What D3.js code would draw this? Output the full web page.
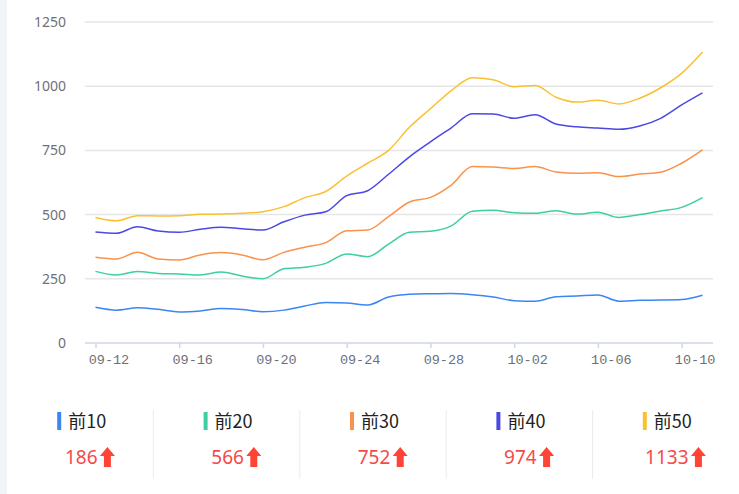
<!DOCTYPE html>
<html>
<head>
	<meta charset="UTF-8">
	<title>排名趋势</title>
	<style>
		body { margin: 0; background: #fff; }
		svg { display: block; }
		.grid line { stroke: #e6e6e6; }
		.yaxis text { fill: #6e7079; font: 14px "Noto Sans", sans-serif; }
		.xaxis text { fill: #6e7079; font: 13.5px "Liberation Mono", monospace; }
	</style>
</head>
<body>
<script src="https://d3js.org/d3.v7.min.js"></script>
<script type="text/javascript">

'use strict';

var dates = ["09-12","09-13","09-14","09-15","09-16","09-17","09-18","09-19","09-20","09-21",
	"09-22","09-23","09-24","09-25","09-26","09-27","09-28","09-29","09-30","10-01",
	"10-02","10-03","10-04","10-05","10-06","10-07","10-08","10-09","10-10","10-11"];

var names = ["前10", "前20", "前30", "前40", "前50"];

var top10 = [139,128,137,131,121,125,134,130,122,128,144,158,156,148,179,190,192,193,188,179,165,163,180,183,187,163,166,167,169,186];
var top20 = [279,265,278,271,269,265,276,261,250,289,295,310,347,336,385,431,435,456,513,517,507,505,515,502,509,489,500,514,528,566];
var top30 = [334,327,353,327,323,343,352,343,324,353,373,391,437,440,492,549,567,615,687,685,680,687,666,661,663,648,658,665,700,752];
var top40 = [432,427,453,436,431,443,451,445,440,472,498,511,574,593,657,725,783,838,893,892,875,889,853,842,837,832,845,875,927,974];
var top50 = [489,476,496,495,496,501,502,505,511,531,566,590,650,700,750,840,912,983,1033,1025,998,1003,957,938,945,931,953,994,1050,1133];

var yTicks = [0, 250, 500, 750, 1000, 1250];

var series = [top10, top20, top30, top40, top50];
var colors = ["#3b86f4", "#3ccfa4", "#f8924d", "#4b48e4", "#f9c130"];

var W = 739, H = 494;
var svg = d3.select("body").append("svg")
	.attr("width", W)
	.attr("height", H);

// light strip on the left edge
svg.append("rect")
	.attr("x", 0).attr("y", 0)
	.attr("width", 7).attr("height", H)
	.attr("fill", "#f2f5f8");

var x = d3.scalePoint()
	.domain(dates)
	.range([85, 713])
	.padding(0.5);

var y = d3.scaleLinear()
	.domain([0, 1250])
	.range([343, 22]);

// grid
svg.append("g")
		.attr("class", "grid")
	.selectAll("line")
		.data(yTicks.slice(1))
	.enter().append("line")
		.attr("x1", 85).attr("x2", 713)
		.attr("y1", function(d){ return y(d); })
		.attr("y2", function(d){ return y(d); })
		.attr("stroke-width", 1.5);

// y axis labels
var yAxis = d3.axisLeft(y).tickValues(yTicks).tickFormat(d3.format("d")).tickSize(0).tickPadding(0);
svg.append("g")
		.attr("class", "yaxis")
		.attr("transform", "translate(66,0)")
		.call(yAxis)
		.call(function(g){ g.select(".domain").remove(); });

// x axis
var xTicks = dates.filter(function(d, i){ return i % 4 === 0; });
var xAxis = d3.axisBottom(x).tickValues(xTicks).tickSize(5).tickSizeOuter(0).tickPadding(6);
var xg = svg.append("g")
		.attr("class", "xaxis")
		.attr("transform", "translate(0,343)")
		.call(xAxis);
xg.select(".domain")
	.attr("d", "M85,0H713")
	.attr("stroke", "#cfd6e6")
	.attr("stroke-width", 1.5);
xg.selectAll(".tick line").attr("stroke", "#cfd6e6").attr("stroke-width", 1.5);
xg.selectAll(".tick text").attr("x", 13);

// lines
var line = d3.line()
	.x(function(d, i){ return x(dates[i]); })
	.y(function(d){ return y(d); })
	.curve(d3.curveMonotoneX);

svg.append("g").selectAll("path")
		.data(series)
	.enter().append("path")
		.attr("d", line)
		.attr("fill", "none")
		.attr("stroke", function(d, i){ return colors[i]; })
		.attr("stroke-width", 1.5);

// summary row
var colW = 146.4, col0 = 7;
svg.append("g").selectAll("line")
		.data([1, 2, 3, 4])
	.enter().append("line")
		.attr("x1", function(d){ return col0 + d * colW; })
		.attr("x2", function(d){ return col0 + d * colW; })
		.attr("y1", 410).attr("y2", 479)
		.attr("stroke", "#ebebeb");

var cell = svg.append("g").selectAll("g")
		.data(names)
	.enter().append("g")
		.attr("transform", function(d, i){ return "translate(" + (col0 + colW * (i + 0.5)) + ",0)"; });

cell.append("rect")
	.attr("x", -23).attr("y", 412)
	.attr("width", 4).attr("height", 18)
	.attr("fill", function(d, i){ return colors[i]; });

cell.append("text")
	.attr("x", -12).attr("y", 428)
	.attr("fill", "#222")
	.style("font", '18px "Noto Sans CJK SC", sans-serif')
	.text(function(d){ return d; });

cell.append("text")
	.attr("x", 1).attr("y", 464)
	.attr("text-anchor", "middle")
	.attr("fill", "#f6494b")
	.style("font", '19px "Noto Sans", sans-serif')
	.text(function(d, i){ var s = series[i]; return s[s.length - 1]; });

cell.append("path")
	.attr("transform", function(d, i){
		var s = series[i];
		var n = String(s[s.length - 1]).length;
		return "translate(" + (1 + n * 5.4 + 10) + ",447)";
	})
	.attr("d", "M0,0L7.5,9H3.5V20H-3.5V9H-7.5Z")
	.attr("fill", "#ff4436");

</script>
</body>
</html>
